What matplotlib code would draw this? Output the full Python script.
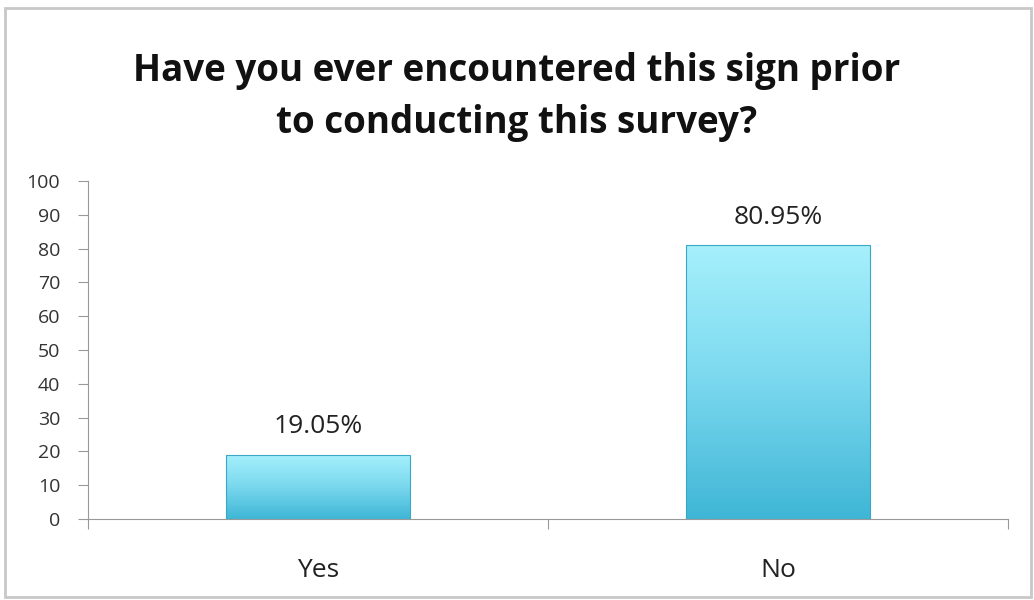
import numpy as np
import matplotlib.pyplot as plt
from matplotlib.colors import LinearSegmentedColormap
from matplotlib.patches import Rectangle

categories = ['Yes', 'No']
values = [19.05, 80.95]
labels = ['19.05%', '80.95%']
yticks = list(range(0, 101, 10))

plt.rcParams['font.family'] = ['Open Sans', 'DejaVu Sans']

fig = plt.figure(figsize=(10.34, 6), dpi=100)
ax = fig.add_axes([88/1034, 1-519/600, 920/1034, 338/600])

# outer frame of the chart
fig.patches.append(Rectangle((5/1034, 3/600), 1026/1034, 589/600, transform=fig.transFigure,
                             fill=False, edgecolor='#c8c8c8', linewidth=2))

x = np.arange(len(categories))
bars = ax.bar(x, values, width=0.4, color='none', edgecolor='#3aa8c4', linewidth=0.8, zorder=3)

cmap = LinearSegmentedColormap.from_list('bar', ['#3fb6d6', '#7ad8ee', '#a6f0fc'])
grad = np.linspace(0, 1, 256).reshape(-1, 1)
for b in bars:
    bx, by = b.get_x(), b.get_y()
    w, h = b.get_width(), b.get_height()
    im = ax.imshow(grad, cmap=cmap, origin='lower', aspect='auto',
                   extent=[bx, bx + w, by, by + h], zorder=2)
    im.set_clip_path(b)

for xi, v, lab in zip(x, values, labels):
    ax.annotate(lab, (xi, v), xytext=(0, 11), textcoords='offset points',
                ha='center', va='bottom', fontsize=19, color='#222222')

ax.set_xlim(-0.5, 1.5)
ax.set_ylim(0, 100)
ax.set_yticks(yticks)
ax.set_xticks([-0.5, 0.5, 1.5])
ax.set_xticklabels([])
ax.set_xticks(x, minor=True)
ax.set_xticklabels(categories, minor=True, fontsize=19, color='#222222')
ax.tick_params(axis='x', which='minor', length=0, pad=28)
ax.tick_params(axis='x', which='major', length=7, color='#999999', direction='out')
ax.tick_params(axis='y', length=7, color='#999999', labelsize=14, labelcolor='#333333', pad=13)
for s in ['top', 'right']:
    ax.spines[s].set_visible(False)
for s in ['left', 'bottom']:
    ax.spines[s].set_color('#999999')

fig.text(0.5, 1 - 97/600, 'Have you ever encountered this sign prior\nto conducting this survey?',
         ha='center', va='center', fontsize=26.5, fontweight='bold', color='#111111', linespacing=1.45)

fig.savefig('out.png', dpi=100)
